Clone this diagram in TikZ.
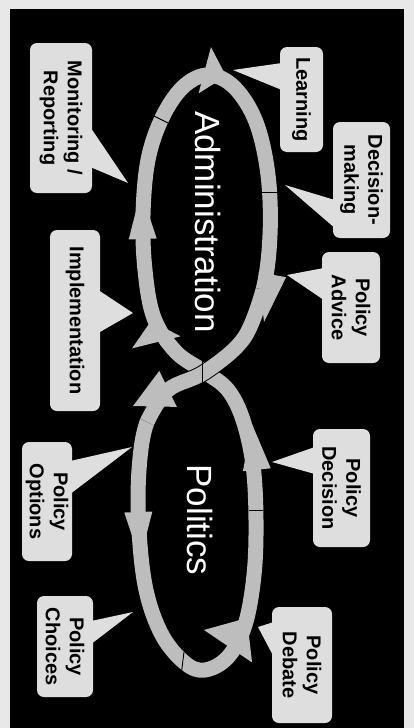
\documentclass[tikz,border=0pt]{standalone}
\usepackage{fontspec}
\setmainfont{Liberation Sans}
\usetikzlibrary{calc}
\definecolor{scangray}{HTML}{E8E8E8}
\definecolor{ringgray}{HTML}{BDBDBD}
\definecolor{boxgray}{HTML}{DEDEDE}
\newcommand\ringhead[5]{\fill[ringgray,shift={(#1,#2)},rotate=#3] (0,0) -- (-#4,#5) -- (-#4,-#5) -- cycle;}

\begin{document}
\begin{tikzpicture}[x=1pt,y=-1pt,
    ring/.style={draw=ringgray,line width=15pt},
    sep/.style={draw=black,line width=0.9pt},
    callout/.style={fill=boxgray,rounded corners=7pt,rotate=-90,align=center,inner sep=0pt,
        font=\bfseries\fontsize{20}{24}\selectfont},
    pointer/.style={fill=boxgray},
    cyclename/.style={text=white,rotate=-90,font=\fontsize{35}{40}\selectfont}]
    \useasboundingbox (0,0) rectangle (414,728);
    \fill[scangray] (0,0) rectangle (414,728);
    \fill[black] (10,9) rectangle (404,728);
    \draw[ring] plot[smooth cycle,tension=0.6] coordinates {(205,372) (176,352) (154,318) (145,270)
        (143,215) (148,160) (162,118) (183,87) (208,75) (234,87) (256,122) (268,175) (270,235)
        (263,290) (244,338) (205,372) (168,390) (147,422) (139,470) (139,530) (146,590) (162,635)
        (185,663) (205,670) (228,657) (245,625) (254,575) (256,520) (253,465) (243,420) (228,390)};
    \draw[black,line width=17pt] plot[smooth,tension=0.6] coordinates {(263,290) (244,338) (205,372) (168,390) (147,422)};
    \draw[ring] plot[smooth,tension=0.6] coordinates {(263,290) (244,338) (205,372) (168,390) (147,422)};
    \ringhead{226}{76}{-15}{22}{24}
    \ringhead{264}{322}{-100}{48}{14}
    \ringhead{133}{406}{206}{39}{20}
    \ringhead{151}{321}{104}{22}{25}
    \ringhead{141}{191}{92}{48}{14}
    \ringhead{252}{424}{96}{46}{14}
    \ringhead{140}{560}{-88}{48}{14}
    \ringhead{247}{618}{56}{34}{29}
    \draw[sep] (152,115) -- (168,123);
    \draw[sep] (261,192) -- (279,192);
    \draw[sep] (202,352) -- (202,395);
    \draw[sep] (184,652) -- (181,676);
    \draw[sep] (249,510) -- (263,510);
    \node[cyclename] (admin) at (208,222) {Administration};
    \node[cyclename] (politics) at (200,520) {Politics};
    \node[callout,minimum width=105pt,minimum height=43pt] (learn) at (301.5,99.5) {Learning};
    \node[callout,minimum width=116pt,minimum height=57pt] (decide) at (361.5,180) {Decision-\\making};
    \node[callout,minimum width=111pt,minimum height=58pt] (advice) at (351,307.5) {Policy\\Advice};
    \node[callout,minimum width=118pt,minimum height=57pt] (pdecision) at (341.5,488) {Policy\\Decision};
    \node[callout,minimum width=116pt,minimum height=60pt] (debate) at (302,665) {Policy\\Debate};
    \node[callout,minimum width=150pt,minimum height=62pt] (monitor) at (61,118) {Monitoring /\\Reporting};
    \node[callout,minimum width=181pt,minimum height=50pt] (implem) at (75,320.5) {Implementation};
    \node[callout,minimum width=119pt,minimum height=50pt] (options) at (47,501.5) {Policy\\Options};
    \node[callout,minimum width=101pt,minimum height=56pt] (choices) at (65,646.5) {Policy\\Choices};
    \coordinate (tLearn) at (233,70);
    \coordinate (tDecide) at (285,185);
    \coordinate (tAdvice) at (287,275);
    \coordinate (tPdecision) at (272,462);
    \coordinate (tDebate) at (258,627);
    \coordinate (tMonitor) at (128,183);
    \coordinate (tImplem) at (133,313);
    \coordinate (tOptions) at (132,447);
    \coordinate (tChoices) at (133,612);
    \fill[pointer] (tLearn) -- ($(learn.south)+(2,-36.5)$) -- ($(learn.south)+(2,-9.5)$) -- cycle;
    \fill[pointer] (tDecide) -- ($(decide.south)+(2,20)$) -- ($(decide.south)+(2,48)$) -- cycle;
    \fill[pointer] (tAdvice) -- ($(advice.south)+(2,-39.5)$) -- ($(advice.south)+(2,-7.5)$) -- cycle;
    \fill[pointer] (tPdecision) -- ($(pdecision.south)+(2,-41)$) -- ($(pdecision.south)+(2,-14)$) -- cycle;
    \fill[pointer] (tDebate) -- ($(debate.south)+(2,-43)$) -- ($(debate.south)+(2,-8)$) -- cycle;
    \fill[pointer] (tMonitor) -- ($(monitor.north)+(-2,9)$) -- ($(monitor.north)+(-2,49)$) -- cycle;
    \fill[pointer] (tImplem) -- ($(implem.north)+(-2,-30.5)$) -- ($(implem.north)+(-2,12.5)$) -- cycle;
    \fill[pointer] (tOptions) -- ($(options.north)+(-2,-40.5)$) -- ($(options.north)+(-2,-7.5)$) -- cycle;
    \fill[pointer] (tChoices) -- ($(choices.north)+(-2,-25.5)$) -- ($(choices.north)+(-2,-2.5)$) -- cycle;
\end{tikzpicture}
\end{document}
